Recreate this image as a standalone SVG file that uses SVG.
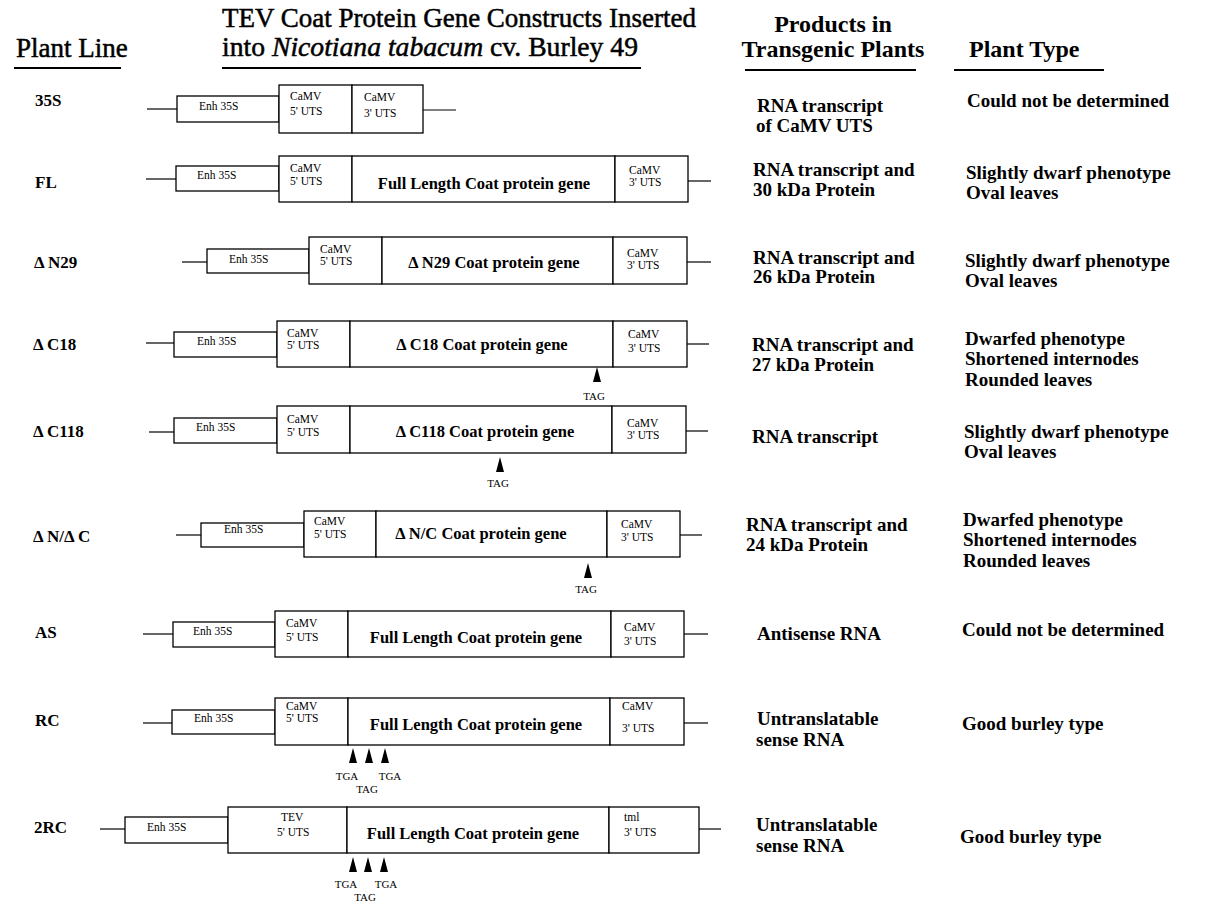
<svg xmlns="http://www.w3.org/2000/svg" xmlns:xlink="http://www.w3.org/1999/xlink" width="1230" height="913" viewBox="0 0 1230 913">
<style>
text{font-family:"Liberation Serif","Times New Roman",serif;fill:#000}
.box{fill:#fff;stroke:#000;stroke-width:1.3}
.ln{stroke:#000;stroke-width:1.2;fill:none}
.ul{stroke:#000;stroke-width:2;fill:none}
.sm{font-size:11.5px}
.gene{font-size:16.5px;font-weight:bold;text-anchor:middle}
.lbl{font-size:17px;font-weight:bold}
.col{font-size:19px;font-weight:bold}
.hdr{font-size:27px;stroke:#000;stroke-width:0.5}
.hdr2{font-size:24px;font-weight:bold}
.tag{font-size:11px;text-anchor:middle}
</style>
<defs>
<path id="arr" d="M0,0 L4,15 L-4,15 Z" fill="#000"/>
</defs>
<rect width="1230" height="913" fill="#fff"/>

<g id="headers">
<text class="hdr" x="16" y="57">Plant Line</text>
<line class="ul" x1="14" y1="68" x2="121" y2="68"/>
<text class="hdr" x="222" y="27" textLength="474" lengthAdjust="spacingAndGlyphs">TEV Coat Protein Gene Constructs Inserted</text>
<text class="hdr" x="222" y="56" textLength="416" lengthAdjust="spacingAndGlyphs">into <tspan font-style="italic">Nicotiana tabacum</tspan>  cv. Burley 49</text>
<line class="ul" x1="222" y1="68" x2="641" y2="68"/>
<text class="hdr2" x="833" y="32" text-anchor="middle">Products in</text>
<text class="hdr2" x="833" y="57" text-anchor="middle">Transgenic Plants</text>
<line class="ul" x1="745" y1="70" x2="916" y2="70"/>
<text class="hdr2" x="969" y="57">Plant Type</text>
<line class="ul" x1="954" y1="70" x2="1104" y2="70"/>
</g>

<g id="connectors">
<line class="ln" x1="147" y1="109" x2="177" y2="109"/>
<line class="ln" x1="423" y1="110" x2="456" y2="110"/>
<line class="ln" x1="146" y1="179" x2="176" y2="179"/>
<line class="ln" x1="688" y1="181" x2="711" y2="181"/>
<line class="ln" x1="182" y1="262" x2="207" y2="262"/>
<line class="ln" x1="687" y1="262" x2="711" y2="262"/>
<line class="ln" x1="146" y1="343" x2="174" y2="343"/>
<line class="ln" x1="687" y1="344" x2="709" y2="344"/>
<line class="ln" x1="149" y1="432" x2="174" y2="432"/>
<line class="ln" x1="686" y1="431" x2="708" y2="431"/>
<line class="ln" x1="176" y1="535" x2="201" y2="535"/>
<line class="ln" x1="680" y1="535" x2="702" y2="535"/>
<line class="ln" x1="143" y1="634" x2="173" y2="634"/>
<line class="ln" x1="684" y1="634" x2="708" y2="634"/>
<line class="ln" x1="143" y1="723" x2="172" y2="723"/>
<line class="ln" x1="684" y1="723" x2="708" y2="723"/>
<line class="ln" x1="100" y1="829" x2="125" y2="829"/>
<line class="ln" x1="699" y1="829" x2="721" y2="829"/>
</g>

<g id="row-35S">
<text class="lbl" x="35" y="106">35S</text>
<rect class="box" x="177" y="96" width="102" height="26"/>
<text class="sm" x="199" y="110">Enh 35S</text>
<rect class="box" x="279" y="85" width="73" height="48"/>
<text class="sm" x="290" y="100">CaMV</text>
<text class="sm" x="290" y="115">5' UTS</text>
<rect class="box" x="352" y="85" width="71" height="48"/>
<text class="sm" x="364" y="101">CaMV</text>
<text class="sm" x="364" y="117">3' UTS</text>
<text class="col" x="757" y="112">RNA transcript</text>
<text class="col" x="756" y="132">of CaMV UTS</text>
<text class="col" x="967" y="107">Could not be determined</text>
</g>

<g id="row-FL">
<text class="lbl" x="35" y="188">FL</text>
<rect class="box" x="176" y="166" width="103" height="25"/>
<text class="sm" x="197" y="179">Enh 35S</text>
<rect class="box" x="279" y="156" width="73" height="46"/>
<text class="sm" x="290" y="172">CaMV</text>
<text class="sm" x="290" y="185">5' UTS</text>
<rect class="box" x="352" y="156" width="263" height="46"/>
<text class="gene" x="484" y="189">Full Length Coat protein gene</text>
<rect class="box" x="615" y="156" width="73" height="46"/>
<text class="sm" x="629" y="174">CaMV</text>
<text class="sm" x="629" y="186">3' UTS</text>
<text class="col" x="753" y="176">RNA transcript and</text>
<text class="col" x="753" y="196">30 kDa Protein</text>
<text class="col" x="966" y="179">Slightly dwarf phenotype</text>
<text class="col" x="966" y="199">Oval leaves</text>
</g>

<g id="row-dN29">
<text class="lbl" x="34" y="268">Δ N29</text>
<rect class="box" x="207" y="249" width="102" height="24"/>
<text class="sm" x="229" y="263">Enh 35S</text>
<rect class="box" x="309" y="237" width="73" height="47"/>
<text class="sm" x="320" y="253">CaMV</text>
<text class="sm" x="320" y="265">5' UTS</text>
<rect class="box" x="382" y="237" width="231" height="47"/>
<text class="gene" x="494" y="268">Δ N29 Coat protein gene</text>
<rect class="box" x="613" y="237" width="74" height="47"/>
<text class="sm" x="627" y="257">CaMV</text>
<text class="sm" x="627" y="269">3' UTS</text>
<text class="col" x="753" y="264">RNA transcript and</text>
<text class="col" x="753" y="283">26 kDa Protein</text>
<text class="col" x="965" y="267">Slightly dwarf phenotype</text>
<text class="col" x="965" y="287">Oval leaves</text>
</g>

<g id="row-dC18">
<text class="lbl" x="33" y="350">Δ C18</text>
<rect class="box" x="174" y="332" width="103" height="25"/>
<text class="sm" x="197" y="345">Enh 35S</text>
<rect class="box" x="277" y="321" width="73" height="46"/>
<text class="sm" x="287" y="337">CaMV</text>
<text class="sm" x="287" y="349">5' UTS</text>
<rect class="box" x="350" y="321" width="263" height="46"/>
<text class="gene" x="482" y="350">Δ C18 Coat protein gene</text>
<rect class="box" x="613" y="321" width="74" height="46"/>
<text class="sm" x="628" y="338">CaMV</text>
<text class="sm" x="628" y="352">3' UTS</text>
<use xlink:href="#arr" href="#arr" x="597" y="367"/>
<text class="tag" x="594" y="400">TAG</text>
<text class="col" x="752" y="351">RNA transcript and</text>
<text class="col" x="752" y="371">27 kDa Protein</text>
<text class="col" x="965" y="345">Dwarfed phenotype</text>
<text class="col" x="965" y="365">Shortened internodes</text>
<text class="col" x="965" y="386">Rounded leaves</text>
</g>

<g id="row-dC118">
<text class="lbl" x="33" y="437">Δ C118</text>
<rect class="box" x="174" y="418" width="103" height="25"/>
<text class="sm" x="196" y="431">Enh 35S</text>
<rect class="box" x="277" y="406" width="73" height="47"/>
<text class="sm" x="287" y="423">CaMV</text>
<text class="sm" x="287" y="436">5' UTS</text>
<rect class="box" x="350" y="406" width="262" height="47"/>
<text class="gene" x="485" y="437">Δ C118 Coat protein gene</text>
<rect class="box" x="612" y="406" width="74" height="47"/>
<text class="sm" x="627" y="427">CaMV</text>
<text class="sm" x="627" y="439">3' UTS</text>
<use xlink:href="#arr" href="#arr" x="500" y="457"/>
<text class="tag" x="498" y="487">TAG</text>
<text class="col" x="752" y="443">RNA transcript</text>
<text class="col" x="964" y="438">Slightly dwarf phenotype</text>
<text class="col" x="964" y="458">Oval leaves</text>
</g>

<g id="row-dNdC">
<text class="lbl" x="33" y="542">Δ N/Δ C</text>
<rect class="box" x="201" y="523" width="103" height="24"/>
<text class="sm" x="224" y="533">Enh 35S</text>
<rect class="box" x="304" y="511" width="72" height="46"/>
<text class="sm" x="314" y="525">CaMV</text>
<text class="sm" x="314" y="538">5' UTS</text>
<rect class="box" x="376" y="511" width="231" height="46"/>
<text class="gene" x="481" y="539">Δ N/C Coat protein gene</text>
<rect class="box" x="607" y="511" width="73" height="46"/>
<text class="sm" x="621" y="528">CaMV</text>
<text class="sm" x="621" y="541">3' UTS</text>
<use xlink:href="#arr" href="#arr" x="588" y="563"/>
<text class="tag" x="586" y="593">TAG</text>
<text class="col" x="746" y="531">RNA transcript and</text>
<text class="col" x="746" y="551">24 kDa Protein</text>
<text class="col" x="963" y="526">Dwarfed phenotype</text>
<text class="col" x="963" y="546">Shortened internodes</text>
<text class="col" x="963" y="567">Rounded leaves</text>
</g>

<g id="row-AS">
<text class="lbl" x="35" y="638">AS</text>
<rect class="box" x="173" y="622" width="102" height="25"/>
<text class="sm" x="193" y="635">Enh 35S</text>
<rect class="box" x="275" y="611" width="73" height="46"/>
<text class="sm" x="286" y="627">CaMV</text>
<text class="sm" x="286" y="641">5' UTS</text>
<rect class="box" x="348" y="611" width="263" height="46"/>
<text class="gene" x="476" y="643">Full Length Coat protein gene</text>
<rect class="box" x="611" y="611" width="73" height="46"/>
<text class="sm" x="624" y="631">CaMV</text>
<text class="sm" x="624" y="645">3' UTS</text>
<text class="col" x="757" y="640">Antisense RNA</text>
<text class="col" x="962" y="636">Could not be determined</text>
</g>

<g id="row-RC">
<text class="lbl" x="35" y="726">RC</text>
<rect class="box" x="172" y="710" width="103" height="24"/>
<text class="sm" x="194" y="722">Enh 35S</text>
<rect class="box" x="275" y="698" width="73" height="47"/>
<text class="sm" x="286" y="710">CaMV</text>
<text class="sm" x="286" y="722">5' UTS</text>
<rect class="box" x="348" y="698" width="262" height="47"/>
<text class="gene" x="476" y="730">Full Length Coat protein gene</text>
<rect class="box" x="610" y="698" width="74" height="47"/>
<text class="sm" x="622" y="710">CaMV</text>
<text class="sm" x="622" y="732">3' UTS</text>
<use xlink:href="#arr" href="#arr" x="353" y="748"/>
<use xlink:href="#arr" href="#arr" x="369" y="748"/>
<use xlink:href="#arr" href="#arr" x="385" y="748"/>
<text class="tag" x="347" y="780">TGA</text>
<text class="tag" x="390" y="780">TGA</text>
<text class="tag" x="367" y="793">TAG</text>
<text class="col" x="757" y="725">Untranslatable</text>
<text class="col" x="756" y="746">sense RNA</text>
<text class="col" x="962" y="730">Good burley type</text>
</g>

<g id="row-2RC">
<text class="lbl" x="34" y="833">2RC</text>
<rect class="box" x="125" y="817" width="103" height="26"/>
<text class="sm" x="147" y="831">Enh 35S</text>
<rect class="box" x="228" y="807" width="119" height="46"/>
<text class="sm" x="281" y="821">TEV</text>
<text class="sm" x="277" y="836">5' UTS</text>
<rect class="box" x="347" y="807" width="262" height="46"/>
<text class="gene" x="473" y="839">Full Length Coat protein gene</text>
<rect class="box" x="609" y="807" width="90" height="46"/>
<text class="sm" x="624" y="821">tml</text>
<text class="sm" x="624" y="836">3' UTS</text>
<use xlink:href="#arr" href="#arr" x="353" y="857"/>
<use xlink:href="#arr" href="#arr" x="368" y="857"/>
<use xlink:href="#arr" href="#arr" x="384" y="857"/>
<text class="tag" x="346" y="888">TGA</text>
<text class="tag" x="386" y="888">TGA</text>
<text class="tag" x="365" y="901">TAG</text>
<text class="col" x="756" y="831">Untranslatable</text>
<text class="col" x="756" y="852">sense RNA</text>
<text class="col" x="960" y="843">Good burley type</text>
</g>
</svg>
